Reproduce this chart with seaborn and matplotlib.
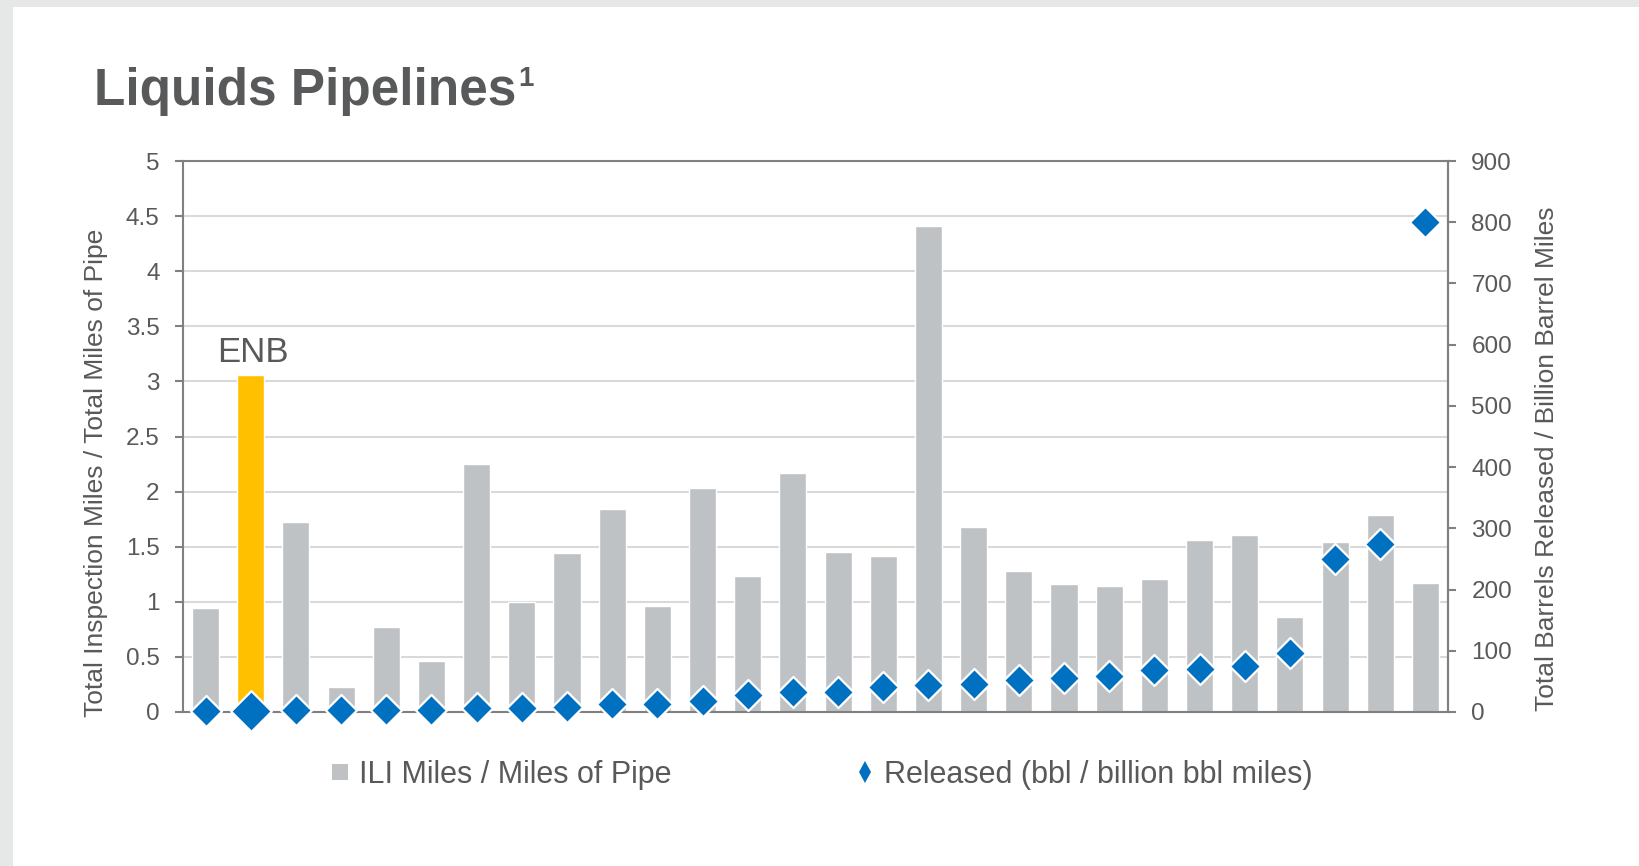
import numpy as np
import pandas as pd
import matplotlib
matplotlib.use("Agg")
import matplotlib.pyplot as plt
import seaborn as sns
from matplotlib.lines import Line2D
from matplotlib.patches import Rectangle
from matplotlib.ticker import FuncFormatter, MultipleLocator

# ---------------- data ----------------
companies = ["Peer 1", "ENB", "Peer 2", "Peer 3", "Peer 4", "Peer 5", "Peer 6",
             "Peer 7", "Peer 8", "Peer 9", "Peer 10", "Peer 11", "Peer 12", "Peer 13",
             "Peer 14", "Peer 15", "Peer 16", "Peer 17", "Peer 18", "Peer 19", "Peer 20",
             "Peer 21", "Peer 22", "Peer 23", "Peer 24", "Peer 25", "Peer 26", "Peer 27"]
ili_ratio = [0.94, 3.06, 1.72, 0.23, 0.77, 0.46, 2.25, 1.00, 1.44, 1.84, 0.96, 2.03,
             1.23, 2.17, 1.45, 1.42, 4.41, 1.68, 1.28, 1.16, 1.14, 1.21, 1.56, 1.61,
             0.86, 1.54, 1.79, 1.17]
released = [2, 2, 3, 3, 3, 4, 6, 6, 8, 13, 13, 18, 27, 32, 32, 41, 44, 46, 52, 55,
            58, 68, 70, 75, 96, 250, 274, 800]
highlight = "ENB"

title = "Liquids Pipelines"
title_sup = "1"
left_label = "Total Inspection Miles / Total Miles of Pipe"
right_label = "Total Barrels Released / Billion Barrel Miles"
legend_labels = ["ILI Miles / Miles of Pipe", "Released (bbl / billion bbl miles)"]

# ---------------- style ----------------
BAR = "#BFC2C5"
YELLOW = "#FFC000"
BLUE = "#0070C0"
TEXT = "#595959"
SPINE = "#808080"
GRID = "#D9D9D9"

sns.set_theme(style="white")
plt.rcParams["font.family"] = ["Liberation Sans", "DejaVu Sans"]

W, H = 1639, 866
fig = plt.figure(figsize=(W / 100, H / 100), dpi=100)
fig.patch.set_facecolor("#E6E7E7")
fig.add_artist(Rectangle((13 / W, 0), 1, 1 - 7 / H, transform=fig.transFigure,
                         facecolor="white", edgecolor="none", zorder=-5))

ax = fig.add_axes([183 / W, 1 - 712 / H, 1265 / W, 551 / H])
ax.set_facecolor("white")

df = pd.DataFrame({"company": companies, "ili": ili_ratio, "released": released})
df["pos"] = np.arange(len(df))
palette = {c: (YELLOW if c == highlight else BAR) for c in companies}

sns.barplot(data=df, x="company", y="ili", hue="company", palette=palette,
            legend=False, width=0.6, saturation=1, ax=ax, zorder=2)
ax.set_axisbelow(True)
ax.set_xlim(-0.5, len(df) - 0.5)
ax.set_ylim(0, 5)
ax.yaxis.set_major_locator(MultipleLocator(0.5))
ax.yaxis.set_major_formatter(FuncFormatter(lambda v, p: f"{v:g}"))
ax.grid(axis="y", color=GRID, linewidth=1.5)
ax.grid(axis="x", visible=False)
ax.set_xlabel("")
ax.tick_params(axis="x", bottom=False, labelbottom=False)
ax.tick_params(axis="y", left=True, direction="out", length=5.8, width=1.5,
               color=SPINE, labelsize=17.5, labelcolor=TEXT, pad=11)
for s in ax.spines.values():
    s.set_visible(True)
    s.set_color(SPINE)
    s.set_linewidth(1.5)
ax.set_ylabel(left_label, fontsize=19, color=TEXT)
ax.yaxis.set_label_coords(-0.059, 0.434)

# ENB label
enb_row = df[df.company == highlight].iloc[0]
ax.annotate(highlight, xy=(enb_row.pos, enb_row.ili), xytext=(1.5, 4),
            textcoords="offset points", ha="center", va="bottom",
            fontsize=25, color=TEXT)

# ---------------- right axis: released ----------------
ax2 = ax.twinx()
others = df[df.company != highlight]
enb = df[df.company == highlight]
sns.scatterplot(data=others, x="pos", y="released", marker="D", s=250, color=BLUE,
                edgecolor="white", linewidth=1.6, ax=ax2, clip_on=False,
                zorder=3, legend=False)
sns.scatterplot(data=enb, x="pos", y="released", marker="D", s=430, color=BLUE,
                edgecolor="white", linewidth=1.6, ax=ax2, clip_on=False,
                zorder=3, legend=False)
ax2.set_xlim(-0.5, len(df) - 0.5)
ax2.set_ylim(0, 900)
ax2.yaxis.set_major_locator(MultipleLocator(100))
ax2.yaxis.set_major_formatter(FuncFormatter(lambda v, p: f"{v:g}"))
ax2.grid(False)
ax2.set_xlabel("")
ax2.tick_params(axis="y", right=True, direction="out", length=5.8, width=1.5,
                color=SPINE, labelsize=17.5, labelcolor=TEXT, pad=11)
for k, s in ax2.spines.items():
    s.set_visible(k == "right")
    s.set_color(SPINE)
    s.set_linewidth(1.5)
ax2.set_ylabel(right_label, fontsize=19, color=TEXT)
ax2.yaxis.set_label_coords(1.0688, 0.459)

# ---------------- title ----------------
t = fig.text(94 / W, 1 - 104.5 / H, title, fontsize=37, fontweight="bold",
             color="#58595B", ha="left", va="baseline")
ax.annotate(title_sup, xy=(1, 1), xycoords=t, xytext=(1.5, 0),
            textcoords="offset points", ha="left", va="top", fontsize=20,
            fontweight="bold", color="#58595B", annotation_clip=False)

# ---------------- legend ----------------
h1 = Line2D([], [], marker="s", color=BAR, linestyle="none", markersize=12.2,
            markeredgewidth=0)
h2 = Line2D([], [], marker="d", color=BLUE, linestyle="none", markersize=11,
            markeredgewidth=0)
fig.legend(handles=[h1, h2], labels=legend_labels, ncol=2, loc="center",
           bbox_to_anchor=(0.501, 1 - 775 / H), frameon=False, fontsize=22,
           handlelength=0.7, handletextpad=0.27, columnspacing=6.0,
           labelcolor=TEXT)

fig.savefig("out.png", dpi=100, facecolor=fig.get_facecolor())
